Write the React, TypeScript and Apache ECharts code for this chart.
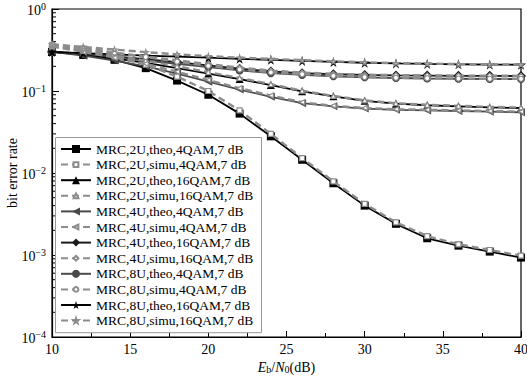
import React, { useEffect, useRef } from "react";
import * as echarts from "echarts";

const xs = [10, 12, 14, 16, 18, 20, 22, 24, 26, 28, 30, 32, 34, 36, 38, 40];

const theo2U4 = [0.30, 0.275, 0.24, 0.19, 0.134, 0.09, 0.053, 0.028, 0.0145, 0.0075, 0.004, 0.0024, 0.0016, 0.0013, 0.0011, 0.00093];
const simu2U4 = [0.36, 0.315, 0.265, 0.21, 0.15, 0.1, 0.058, 0.03, 0.0152, 0.0079, 0.0042, 0.0025, 0.0017, 0.00135, 0.00115, 0.00098];
const theo2U16 = [0.30, 0.28, 0.25, 0.22, 0.19, 0.163, 0.14, 0.118, 0.099, 0.086, 0.076, 0.07, 0.067, 0.065, 0.063, 0.062];
const simu2U16 = [0.35, 0.31, 0.27, 0.235, 0.2, 0.17, 0.144, 0.121, 0.101, 0.087, 0.077, 0.071, 0.068, 0.066, 0.064, 0.063];
const theo4U4 = [0.30, 0.27, 0.235, 0.2, 0.163, 0.13, 0.104, 0.085, 0.071, 0.065, 0.061, 0.059, 0.058, 0.057, 0.056, 0.055];
const simu4U4 = [0.35, 0.30, 0.255, 0.215, 0.172, 0.136, 0.108, 0.088, 0.073, 0.066, 0.062, 0.06, 0.059, 0.058, 0.057, 0.056];
const theo4U16 = [0.30, 0.285, 0.265, 0.245, 0.225, 0.205, 0.187, 0.173, 0.165, 0.16, 0.157, 0.155, 0.154, 0.153, 0.153, 0.152];
const simu4U16 = [0.36, 0.32, 0.29, 0.262, 0.237, 0.213, 0.193, 0.177, 0.168, 0.162, 0.158, 0.156, 0.155, 0.154, 0.154, 0.153];
const theo8U4 = [0.30, 0.285, 0.26, 0.235, 0.215, 0.195, 0.178, 0.165, 0.157, 0.151, 0.147, 0.144, 0.142, 0.141, 0.14, 0.14];
const simu8U4 = [0.37, 0.335, 0.295, 0.26, 0.228, 0.203, 0.183, 0.169, 0.16, 0.153, 0.148, 0.145, 0.143, 0.142, 0.141, 0.141];
const theo8U16 = [0.30, 0.29, 0.28, 0.27, 0.262, 0.255, 0.247, 0.24, 0.233, 0.226, 0.221, 0.217, 0.214, 0.212, 0.21, 0.209];
const simu8U16 = [0.37, 0.345, 0.32, 0.298, 0.28, 0.266, 0.255, 0.246, 0.238, 0.23, 0.224, 0.219, 0.216, 0.213, 0.211, 0.21];

const seriesNames = [
  "MRC,2U,theo,4QAM,7 dB",
  "MRC,2U,simu,4QAM,7 dB",
  "MRC,2U,theo,16QAM,7 dB",
  "MRC,2U,simu,16QAM,7 dB",
  "MRC,4U,theo,4QAM,7 dB",
  "MRC,4U,simu,4QAM,7 dB",
  "MRC,4U,theo,16QAM,7 dB",
  "MRC,4U,simu,16QAM,7 dB",
  "MRC,8U,theo,4QAM,7 dB",
  "MRC,8U,simu,4QAM,7 dB",
  "MRC,8U,theo,16QAM,7 dB",
  "MRC,8U,simu,16QAM,7 dB",
];
const seriesValues = [
  theo2U4, simu2U4, theo2U16, simu2U16, theo4U4, simu4U4,
  theo4U16, simu4U16, theo8U4, simu8U4, theo8U16, simu8U16,
];

const yMinorTicks: number[] = [];
for (let e = -4; e < 0; e++) {
  for (let m = 2; m <= 9; m++) yMinorTicks.push(m * Math.pow(10, e));
}

const STAR = "path://M50,0 L61,35 L98,35 L68,57 L79,91 L50,70 L21,91 L32,57 L2,35 L39,35 Z";
const symbols = ["rect", "triangle", "triangle", "diamond", "circle", STAR];
const rotates = [0, 0, 90, 0, 0, 0];
const theoColors = ["#000", "#000", "#4a4a4a", "#1a1a1a", "#4a4a4a", "#000"];

const FONT = "Liberation Serif, Times New Roman, serif";
const sup: Record<string, string> = { "0": "0", "-1": "−1", "-2": "−2", "-3": "−3", "-4": "−4" };

const LEG_LEFT = 55;
const LEG_TOP = 137;
const ROW = 15.6;

export default function App() {
  const ref = useRef<HTMLDivElement>(null);
  useEffect(() => {
    document.body.style.margin = "0";
    const chart = echarts.init(ref.current!, null, { renderer: "svg" });
    const series: any[] = seriesValues.map((vals, i) => {
      const k = Math.floor(i / 2);
      const simu = i % 2 === 1;
      const data = xs.map((x, j) => [x, vals[j]]);
      if (!simu) {
        return {
          name: seriesNames[i],
          type: "line",
          data,
          symbol: symbols[k],
          symbolRotate: rotates[k],
          symbolSize: k === 5 ? 10 : k === 3 ? 10 : 8,
          showSymbol: true,
          lineStyle: { color: theoColors[k], width: 1.8, type: "solid" },
          itemStyle: { color: theoColors[k], borderColor: theoColors[k], borderWidth: 0 },
          z: 2,
        };
      }
      return {
        name: seriesNames[i],
        type: "line",
        data,
        symbol: symbols[k],
        symbolRotate: rotates[k],
        symbolSize: 5,
        showSymbol: true,
        lineStyle: { color: "#8c8c8c", width: 2.4, type: [7, 4] },
        itemStyle: { color: "#fff", borderColor: "#8c8c8c", borderWidth: 1.2 },
        z: 3,
      };
    });
    series.push({
      type: "custom",
      name: "ticks",
      silent: true,
      data: yMinorTicks.map((v) => [10, v]),
      renderItem: (params: any, api: any) => {
        const p = api.coord([api.value(0), api.value(1)]);
        return {
          type: "line",
          shape: { x1: p[0], y1: p[1], x2: p[0] + 4, y2: p[1] },
          style: { stroke: "#000", lineWidth: 1 },
        };
      },
      z: 3,
    });
    const legendCommon = {
      orient: "vertical",
      left: LEG_LEFT,
      itemWidth: 30,
      itemGap: 2 * ROW - 14,
      padding: [5, 5, 0, 5],
      backgroundColor: "transparent",
      borderWidth: 0,
      z: 11,
      textStyle: { fontFamily: FONT, fontSize: 13.5, lineHeight: 14, color: "#000" },
    };
    chart.setOption({
      animation: false,
      grid: {
        left: 52, right: 6, top: 9, bottom: 41,
        outerBoundsMode: "none",
        containLabel: false,
        show: true, borderColor: "#000", borderWidth: 1.2, backgroundColor: "transparent",
      },
      graphic: [
        {
          type: "rect",
          z: 10,
          shape: { x: LEG_LEFT + 0.5, y: LEG_TOP + 0.5, width: 206, height: 12 * ROW + 8 },
          style: { fill: "#fff", stroke: "#999", lineWidth: 1 },
        },
      ],
      legend: [
        {
          ...legendCommon,
          data: seriesNames.filter((_, i) => i % 2 === 0),
          top: LEG_TOP,
          itemHeight: 10,
        },
        {
          ...legendCommon,
          data: seriesNames.filter((_, i) => i % 2 === 1),
          top: LEG_TOP + ROW,
          itemHeight: 6,
        },
      ],
      xAxis: {
        type: "value",
        min: 10, max: 40, interval: 5,
        name: "{i|E}{sub|b}{n|/}{i|N}{sub|0}{n|(dB)}",
        nameLocation: "middle",
        nameGap: 21,
        nameMoveOverlap: false,
        nameTextStyle: {
          rich: {
            i: { fontFamily: FONT, fontSize: 14, fontStyle: "italic", color: "#000", verticalAlign: "bottom", lineHeight: 16 },
            n: { fontFamily: FONT, fontSize: 14, color: "#000", verticalAlign: "bottom", lineHeight: 16 },
            sub: { fontFamily: FONT, fontSize: 10, color: "#000", verticalAlign: "bottom", lineHeight: 12 },
          },
        },
        axisLine: { lineStyle: { color: "#000", width: 1.2 } },
        axisTick: { inside: true, length: 6, lineStyle: { color: "#000" } },
        minorTick: { show: true, splitNumber: 2, length: 4, lineStyle: { color: "#000" } },
        splitLine: { show: false },
        axisLabel: { fontFamily: FONT, fontSize: 14, color: "#000", margin: 5 },
      },
      yAxis: {
        type: "log",
        logBase: 10,
        min: 1e-4, max: 1,
        name: "bit error rate",
        nameLocation: "middle",
        nameGap: 33,
        nameMoveOverlap: false,
        nameTextStyle: { fontFamily: FONT, fontSize: 14, color: "#000" },
        axisLine: { lineStyle: { color: "#000", width: 1.2 } },
        axisTick: { inside: true, length: 7, lineStyle: { color: "#000" } },
        splitLine: { show: false },
        axisLabel: {
          margin: 6,
          formatter: (v: number) => {
            const e = Math.round(Math.log10(v));
            return "{b|10}{s|" + (sup[String(e)] || String(e)) + "}";
          },
          rich: {
            b: { fontFamily: FONT, fontSize: 14, color: "#000", verticalAlign: "bottom", lineHeight: 16 },
            s: { fontFamily: FONT, fontSize: 10, color: "#000", verticalAlign: "top", lineHeight: 16 },
          },
        },
      },
      series,
    });
    return () => chart.dispose();
  }, []);
  return <div ref={ref} style={{ width: 527, height: 378 }} />;
}
